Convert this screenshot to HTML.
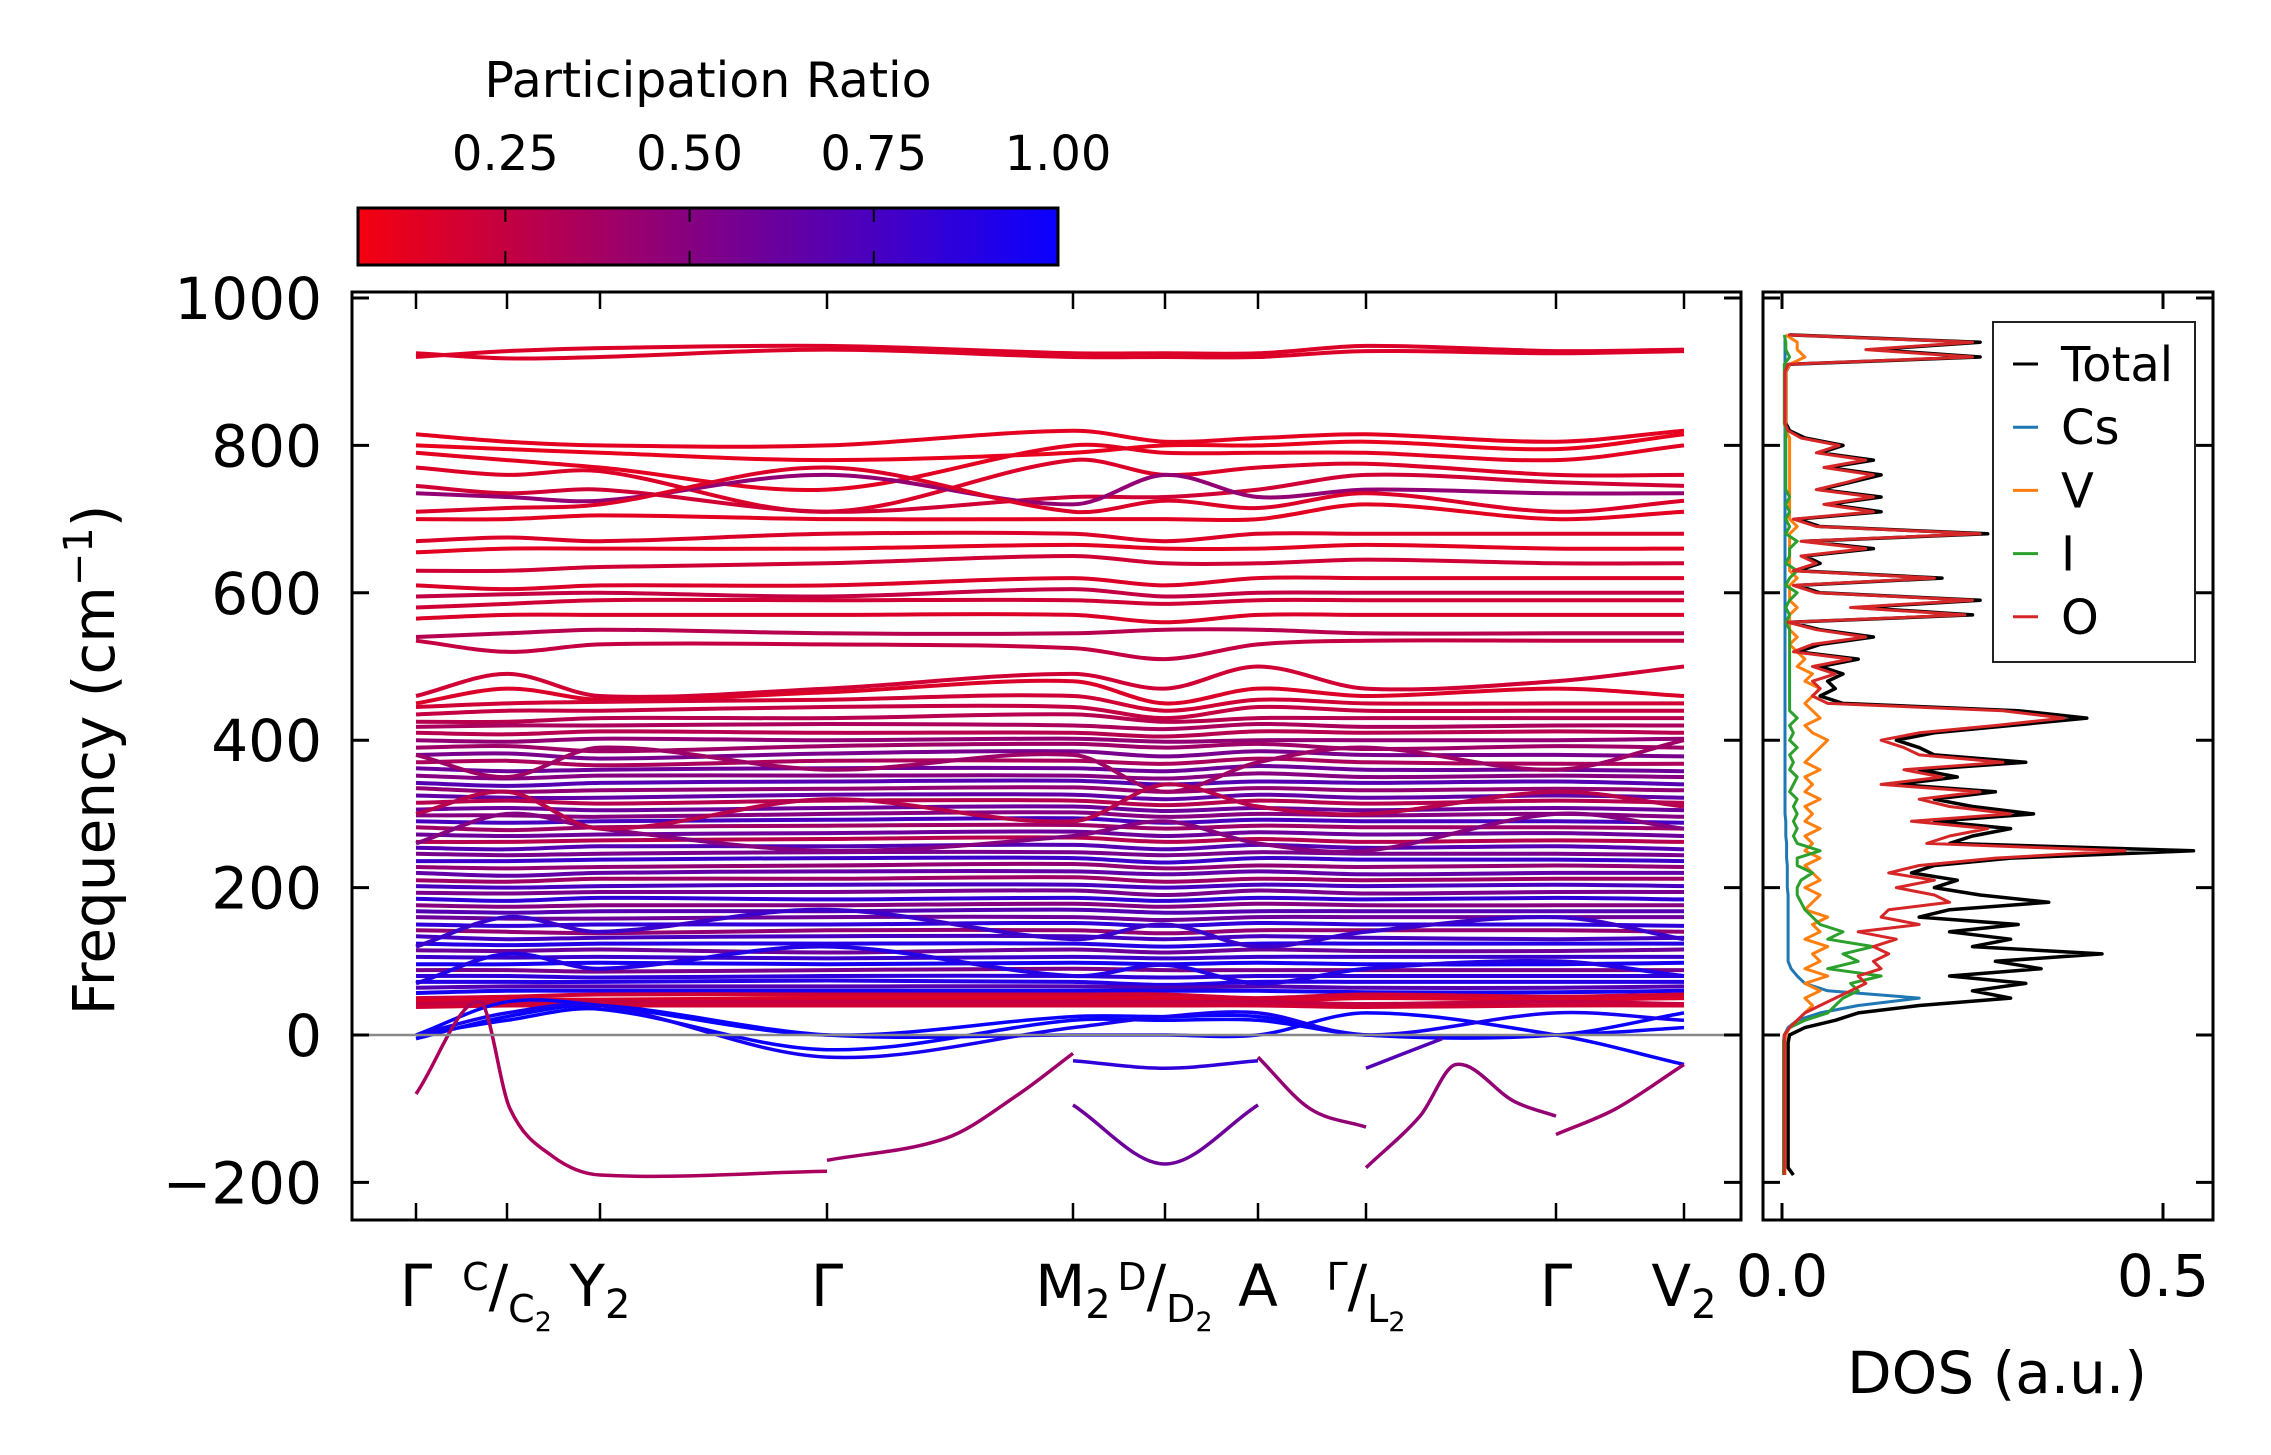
<!DOCTYPE html>
<html><head><meta charset="utf-8"><title>Phonon band structure and DOS</title>
<style>
html,body{margin:0;padding:0;background:#fff;}
svg{display:block;font-family:"DejaVu Sans","Liberation Sans",sans-serif;}
</style></head>
<body>
<svg id="chart" width="2271" height="1455" viewBox="0 0 2271 1455" xmlns="http://www.w3.org/2000/svg">
<defs>
<linearGradient id="cmap" x1="0" x2="1" y1="0" y2="0">
<stop offset="0" stop-color="rgb(245,0,15)"/><stop offset="0.5" stop-color="rgb(128,0,135)"/><stop offset="1" stop-color="rgb(10,0,255)"/>
</linearGradient>
<clipPath id="clipMain"><rect x="352" y="292" width="1389" height="928"/></clipPath>
<clipPath id="clipDos"><rect x="1763" y="292" width="450" height="928"/></clipPath>
</defs>
<g>
<text x="708" y="97" font-size="49" text-anchor="middle">Participation Ratio</text>
<rect x="358" y="208" width="700" height="57" fill="url(#cmap)" stroke="#000" stroke-width="3"/>
<g id="cbTicks"></g>
</g>
<g id="main">
<g id="bands" clip-path="url(#clipMain)"></g>
<line x1="352" x2="1741" y1="1035" y2="1035" stroke="#888" stroke-width="2.5"/>
<rect x="352" y="292" width="1389" height="928" fill="none" stroke="#000" stroke-width="3"/>
<g id="mainTicks"></g>
<text transform="translate(114,760) rotate(-90)" font-size="58" text-anchor="middle">Frequency (cm<tspan dy="-22" font-size="40">−1</tspan><tspan dy="22">)</tspan></text>
</g>
<g id="dos">
<g id="dosLines" clip-path="url(#clipDos)"></g>
<rect x="1763" y="292" width="450" height="928" fill="none" stroke="#000" stroke-width="3"/>
<g id="dosTicks"></g>
<text x="1997" y="1393" font-size="58" text-anchor="middle">DOS (a.u.)</text>
<g id="legend">
<rect x="1993" y="322" width="202" height="340" fill="#fff" stroke="#222" stroke-width="2"/>
</g>
</g>
</svg>
<script>
// ---------- band-structure data ----------
const kLabels = ["Γ","C/C2","Y2","Γ","M2","D/D2","A","Γ/L2","Γ","V2"];
const kDist = [0, 0.91, 1.84, 4.11, 6.57, 7.49, 8.42, 9.50, 11.40, 12.68];
const yTicks = [-200, 0, 200, 400, 600, 800, 1000];
const cbTickVals = [0.25, 0.5, 0.75, 1.0];
const bandPR = [
0.15,0.15,
0.12,0.1,0.12,0.15,0.2,0.45,0.15,0.12,0.15,0.12,0.2,0.15,0.25,0.2,0.15,0.3,0.25,
0.2,0.15,0.2,0.25,0.3,0.35,0.3,0.45,0.4,0.55,0.35,0.6,0.5,0.7,0.45,0.65,0.3,0.6,0.5,0.75,0.4,0.6,0.3,0.7,0.55,0.8,0.45,0.65,0.4,0.75,0.55,0.85,0.5,0.7,0.6,0.85,0.45,0.75,0.9,0.6,0.8,0.95,0.55,0.85,0.9,0.7,0.95,0.2,0.15,0.25,0.2,
0.5,0.4,0.8,0.9,0.3
];
const bandFreq = [
[920,928,932,935,925,925,925,935,928,930],
[925,918,920,930,920,920,920,928,925,928],
[815,805,800,800,820,805,810,815,805,820],
[800,795,790,780,790,800,800,805,795,815],
[790,780,770,740,800,790,790,790,780,800],
[770,760,765,710,780,760,770,775,760,760],
[745,735,740,710,730,730,740,760,750,745],
[735,730,725,760,720,760,730,740,735,735],
[710,715,720,770,710,725,715,735,710,725],
[700,700,705,700,700,700,700,720,700,710],
[670,675,670,680,680,670,680,680,680,680],
[655,660,660,660,665,660,660,665,660,660],
[630,630,635,640,650,640,640,645,640,640],
[610,605,610,610,620,610,620,620,620,620],
[595,598,600,595,605,595,600,600,600,600],
[580,585,590,590,590,585,590,590,590,590],
[565,570,570,570,570,560,570,570,570,570],
[540,545,550,545,545,550,550,545,545,545],
[535,520,530,530,525,510,530,535,535,535],
[460,490,460,470,490,470,500,470,480,500],
[450,470,455,465,480,450,470,460,470,460],
[445,450,452,455,460,440,455,450,450,450],
[435,440,440,445,445,430,445,440,440,440],
[425,425,430,430,435,425,430,430,430,430],
[418,420,420,422,420,415,422,418,420,420],
[410,408,412,410,410,405,412,410,412,410],
[400,398,402,400,402,398,400,400,400,402],
[390,392,385,392,395,390,395,388,392,390],
[380,382,375,382,385,378,385,380,380,378],
[370,372,366,372,372,368,375,370,368,368],
[362,358,360,362,362,358,365,360,360,358],
[352,348,352,352,352,348,355,350,352,350],
[342,338,342,344,345,340,344,342,344,340],
[335,330,332,334,336,330,335,332,334,332],
[325,322,322,326,326,320,326,322,325,322],
[315,318,314,318,318,312,318,314,318,315],
[306,308,305,308,310,304,308,305,308,305],
[298,298,296,300,302,296,300,298,300,296],
[290,288,290,292,294,288,292,290,290,288],
[282,278,282,284,285,280,284,282,282,280],
[272,270,272,274,276,270,275,272,274,270],
[262,262,264,266,268,262,266,262,264,262],
[254,252,256,256,258,252,258,254,256,252],
[246,244,246,248,248,244,248,246,246,244],
[236,236,238,240,240,234,240,238,238,236],
[228,226,228,230,232,226,230,228,230,228],
[220,216,220,222,222,218,222,218,220,220],
[210,208,212,212,214,208,212,210,212,212],
[202,200,202,204,204,200,204,202,204,202],
[193,192,194,194,196,190,196,192,194,194],
[185,182,186,184,186,182,186,184,186,184],
[176,174,176,176,178,174,178,176,176,176],
[168,166,168,168,170,166,168,168,168,168],
[160,158,158,160,160,156,160,160,160,160],
[150,148,150,150,152,148,152,150,150,148],
[142,140,138,142,142,138,142,142,142,140],
[134,130,132,134,134,130,134,132,130,132],
[124,122,124,124,124,120,124,124,124,124],
[115,114,116,112,116,112,116,114,114,116],
[106,105,106,104,106,104,106,106,106,106],
[96,96,98,96,98,96,98,96,96,98],
[88,88,86,88,90,88,88,88,88,88],
[80,80,78,80,80,78,80,80,80,80],
[72,72,72,74,72,68,72,72,72,72],
[64,66,66,66,66,64,66,64,64,66],
[57,60,60,60,60,60,60,58,58,60],
[50,52,55,55,55,55,50,55,52,55],
[46,48,48,50,50,50,46,50,48,50],
[42,45,45,45,45,45,45,42,45,42],
[38,40,40,40,40,40,40,38,40,40],
[260,300,280,250,270,290,260,250,300,280],
[380,350,390,360,380,330,370,390,360,400],
[120,160,140,170,130,150,120,140,160,130],
[70,110,90,120,80,95,70,90,100,80],
[300,330,280,320,290,340,310,300,330,310]
];
const softPR = [1.0, 1.0, 1.0, 0.95];
const softFreq = [
[0,45,40,0,25,25,25,0,0,30],
[0,20,35,-20,20,20,20,0,0,10],
[-5,25,40,0,0,0,0,30,0,-40],
[0,30,40,-30,10,25,30,0,30,20]
];
const segPR = [0.35, 0.4, 0.6, 0.85, 0.45, 0.45, 0.7, 0.4];
const segK = [
[0, 0.64, 0.94, 1.37, 1.84, 4.11],
[4.11, 5.30, 6.03, 6.57],
[6.57, 7.49, 8.42],
[6.57, 7.49, 8.42],
[8.42, 8.94, 9.50],
[9.50, 10.04, 10.40, 10.98, 11.40],
[9.50, 10.26],
[11.40, 12.0, 12.68]
];
const segFreq = [
[-80, 45, -100, -165, -190, -185],
[-170, -140, -80, -25],
[-95, -175, -95],
[-35, -45, -35],
[-30, -100, -125],
[-180, -110, -40, -90, -110],
[-45, -5],
[-135, -100, -40]
];

// ---------- DOS data (freq grid -190..950 step 10) ----------
const dosFreqStart = -190, dosFreqStep = 10;
const dosTotal = [0.015,0.008,0.008,0.008,0.008,0.008,0.008,0.008,0.008,0.008,0.008,0.008,0.008,0.008,0.008,0.008,0.008,0.008,0.008,
0.01,0.03,0.07,0.1,0.18,0.3,0.25,0.32,0.22,0.34,0.28,0.42,0.25,0.3,0.22,0.31,0.18,0.22,0.35,0.26,0.2,0.23,0.17,0.2,0.3,0.54,
0.22,0.25,0.3,0.2,0.33,0.25,0.2,0.28,0.15,0.23,0.18,0.32,0.2,0.18,0.15,0.2,0.3,0.4,0.31,0.08,0.05,0.07,0.06,0.08,0.05,0.1,0.02,0.05,0.12,0.05,0.01,0.25,0.1,0.26,0.05,0.02,0.21,0.02,0.05,0.03,0.12,0.03,0.27,0.05,0.02,0.13,0.06,0.13,0.05,0.09,0.13,0.06,0.12,0.05,0.08,0.03,0.01,
0.005,0.005,0.005,0.005,0.005,0.005,0.005,0.005,0.01,0.26,0.12,0.26,0.01];
const dosO = [0.003,0.003,0.003,0.003,0.003,0.003,0.003,0.003,0.003,0.003,0.003,0.003,0.003,0.003,0.003,0.003,0.003,0.003,0.003,
0.003,0.01,0.02,0.03,0.05,0.07,0.09,0.11,0.1,0.13,0.12,0.14,0.12,0.15,0.1,0.18,0.13,0.14,0.22,0.2,0.15,0.2,0.14,0.18,0.28,0.45,
0.19,0.22,0.27,0.17,0.3,0.22,0.18,0.26,0.13,0.21,0.16,0.29,0.18,0.16,0.13,0.18,0.28,0.37,0.29,0.06,0.04,0.05,0.04,0.07,0.04,0.09,0.015,0.04,0.11,0.045,0.008,0.24,0.09,0.25,0.045,0.015,0.2,0.015,0.045,0.025,0.11,0.025,0.26,0.045,0.015,0.12,0.055,0.12,0.045,0.085,0.12,0.055,0.11,0.045,0.075,0.025,0.008,
0.004,0.004,0.004,0.004,0.004,0.004,0.004,0.004,0.008,0.25,0.11,0.25,0.008];
const dosCs = [0.002,0.002,0.002,0.002,0.002,0.002,0.002,0.002,0.002,0.002,0.002,0.002,0.002,0.002,0.002,0.002,0.002,0.002,0.002,
0.003,0.008,0.02,0.05,0.1,0.18,0.06,0.03,0.02,0.012,
0.008,0.008,0.008,0.008,0.008,0.008,0.008,0.008,0.008,0.008,0.007,0.007,0.007,0.007,0.006,0.006,0.006,0.005,0.005,0.005,
0.004,0.004,0.004,0.004,0.004,0.004,0.004,0.004,0.004,0.004,0.004,0.004,0.004,0.004,0.004,0.004,0.004,0.004,0.004,0.004,0.004,0.004,0.004,0.004,0.004,0.004,0.004,0.004,0.004,0.004,0.004,0.004,0.004,0.004,0.004,0.004,0.004,0.004,0.004,0.004,0.004,0.004,0.004,0.004,0.004,0.004,0.004,0.004,0.004,0.004,0.004,0.004,0.004,0.004,0.004,0.004,0.004,0.004,0.004,0.004,0.004,0.004,0.004,0.004,0.004,0.004];
const dosV = [0.004,0.004,0.004,0.004,0.004,0.004,0.004,0.004,0.004,0.004,0.004,0.004,0.004,0.004,0.004,0.004,0.004,0.004,0.004,
0.005,0.01,0.02,0.03,0.04,0.03,0.05,0.03,0.06,0.03,0.05,0.04,0.06,0.03,0.05,0.04,0.06,0.03,0.04,0.05,0.03,0.05,0.04,0.03,0.05,0.03,0.04,0.03,0.05,0.03,0.04,0.03,0.05,0.03,0.04,0.03,0.05,0.03,0.04,0.05,0.06,0.04,0.03,0.05,0.04,0.03,
0.04,0.05,0.03,0.04,0.02,0.03,0.02,0.01,0.02,0.01,
0.01,0.01,0.02,0.01,0.01,0.01,0.02,0.01,0.01,0.01,0.01,0.01,0.01,0.02,0.01,0.01,0.01,0.01,0.01,0.01,0.01,0.01,0.01,0.01,0.01,0.01,0.005,0.005,0.005,0.005,0.005,0.005,0.005,0.005,0.005,0.01,0.03,0.02,0.02,0.005];
const dosI = [0.002,0.002,0.002,0.002,0.002,0.002,0.002,0.002,0.002,0.002,0.002,0.002,0.002,0.002,0.002,0.002,0.002,0.002,0.002,
0.003,0.01,0.03,0.06,0.07,0.08,0.1,0.09,0.13,0.06,0.1,0.08,0.12,0.06,0.08,0.05,0.04,0.03,0.025,0.02,0.02,0.025,0.04,0.02,0.02,0.05,
0.02,0.015,0.02,0.015,0.02,0.015,0.02,0.01,0.015,0.02,0.01,0.015,0.01,0.02,0.01,0.015,0.01,0.02,0.01,0.01,
0.01,0.01,0.01,0.01,0.01,0.01,0.01,0.01,0.01,0.01,
0.005,0.01,0.005,0.01,0.02,0.005,0.01,0.02,0.005,0.01,
0.01,0.02,0.005,0.01,0.005,0.01,0.005,0.01,0.005,0.005,
0.005,0.005,0.005,0.005,0.005,0.005,0.005,
0.003,0.003,0.003,0.003,0.003,0.003,0.003,0.003,
0.003,0.01,0.005,0.005,0.003];
const dosXTicks = [0.0, 0.5];
const legendNames = ["Total","Cs","V","I","O"];
const legendColors = ["#000000","#1f77b4","#ff7f0e","#2ca02c","#d62728"];

// ---------- scales ----------
const NS = "http://www.w3.org/2000/svg";
const kMin = -0.64, kMax = 13.25, mainL = 352, mainR = 1741;
const xK = k => mainL + (k - kMin) / (kMax - kMin) * (mainR - mainL);
const yF = f => 1035 - f * 0.737;
const xDos = v => 1782 + v * 762;
const xCb = p => 358 + (p - 0.05) / 0.95 * 700;
function prColor(p){
  const t = Math.max(0, Math.min(1, (p - 0.05) / 0.95));
  const r = Math.round(245 + (10 - 245) * t), b = Math.round(15 + (255 - 15) * t);
  return `rgb(${r},0,${b})`;
}
function mk(tag, attrs, parent){
  const e = document.createElementNS(NS, tag);
  for (const k in attrs) e.setAttribute(k, attrs[k]);
  parent.appendChild(e); return e;
}
function smoothPath(pts){
  let d = `M${pts[0][0].toFixed(1)},${pts[0][1].toFixed(1)}`;
  for (let i = 0; i < pts.length - 1; i++){
    const p0 = pts[Math.max(0,i-1)], p1 = pts[i], p2 = pts[i+1], p3 = pts[Math.min(pts.length-1,i+2)];
    const dx = p2[0]-p1[0];
    const s1 = (p2[1]-p0[1])/(p2[0]-p0[0]||1), s2 = (p3[1]-p1[1])/(p3[0]-p1[0]||1);
    d += ` C${(p1[0]+dx/3).toFixed(1)},${(p1[1]+s1*dx/3).toFixed(1)} ${(p2[0]-dx/3).toFixed(1)},${(p2[1]-s2*dx/3).toFixed(1)} ${p2[0].toFixed(1)},${p2[1].toFixed(1)}`;
  }
  return d;
}

// ---------- colorbar ticks ----------
const cbG = document.getElementById("cbTicks");
cbTickVals.forEach(v => {
  const x = xCb(v);
  if (v < 1.0){
    const t1 = mk("line",{x1:x,x2:x,y1:208,y2:222,stroke:"#000","stroke-width":2},cbG);
    
    
    const t2 = mk("line",{x1:x,x2:x,y1:251,y2:265,stroke:"#000","stroke-width":2},cbG);
    
    
  }
  const tx = mk("text",{x:x,y:170,"font-size":48,"text-anchor":"middle"},cbG);
  tx.textContent = v.toFixed(2);
  
  
});

// ---------- bands ----------
const bandsG = document.getElementById("bands");
bandFreq.forEach((vals, i) => {
  const pts = vals.map((f, j) => [xK(kDist[j]), yF(f)]);
  const p = mk("path",{d:smoothPath(pts),fill:"none",stroke:prColor(bandPR[i]),"stroke-width":4},bandsG);
  
  
});
softFreq.forEach((vals, i) => {
  const pts = vals.map((f, j) => [xK(kDist[j]), yF(f)]);
  const p = mk("path",{d:smoothPath(pts),fill:"none",stroke:prColor(softPR[i]),"stroke-width":3.5},bandsG);
  
  
});
segFreq.forEach((vals, i) => {
  const pts = vals.map((f, j) => [xK(segK[i][j]), yF(f)]);
  const p = mk("path",{d:smoothPath(pts),fill:"none",stroke:prColor(segPR[i]),"stroke-width":3.5},bandsG);
  
  
});

// ---------- main axes ticks ----------
const mt = document.getElementById("mainTicks");
yTicks.forEach(f => {
  const y = yF(f);
  const a = mk("line",{x1:352,x2:369,y1:y,y2:y,stroke:"#000","stroke-width":3},mt);
  
  
  const b = mk("line",{x1:1724,x2:1741,y1:y,y2:y,stroke:"#000","stroke-width":3},mt);
  
  
  const c = mk("line",{x1:1763,x2:1780,y1:y,y2:y,stroke:"#000","stroke-width":3},mt);
  
  
  const d = mk("line",{x1:2196,x2:2213,y1:y,y2:y,stroke:"#000","stroke-width":3},mt);
  
  
  const t = mk("text",{x:322,y:y+21,"font-size":58,"text-anchor":"end"},mt);
  t.textContent = f < 0 ? "−" + Math.abs(f) : String(f);
  
  
});
kDist.forEach((k, i) => {
  const x = xK(k);
  const a = mk("line",{x1:x,x2:x,y1:1220,y2:1203,stroke:"#000","stroke-width":2.5},mt);
  
  
  const b = mk("line",{x1:x,x2:x,y1:292,y2:309,stroke:"#000","stroke-width":2.5},mt);
  
  
  const lab = kLabels[i];
  const t = mk("text",{x:x,y:1306,"font-size":58,"text-anchor":"middle"},mt);
  
  
  if (lab.includes("/")){
    const parts = lab.split("/");
    const s1 = mk("tspan",{"font-size":38,dy:-16},t); s1.textContent = parts[0];
    const s2 = mk("tspan",{"font-size":58,dy:16},t); s2.textContent = "/";
    const s3 = mk("tspan",{"font-size":38,dy:16},t); s3.textContent = parts[1][0];
    if (parts[1].length > 1){ const s4 = mk("tspan",{"font-size":27,dy:9},t); s4.textContent = parts[1].slice(1); }
  } else if (lab.length > 1){
    const s1 = mk("tspan",{},t); s1.textContent = lab[0];
    const s2 = mk("tspan",{"font-size":40,dy:12},t); s2.textContent = lab.slice(1);
  } else {
    t.textContent = lab;
  }
});

// ---------- DOS ----------
const dg = document.getElementById("dosLines");
const series = [dosTotal, dosCs, dosV, dosI, dosO];
series.forEach((arr, si) => {
  const pts = arr.map((v, i) => `${xDos(v).toFixed(1)},${yF(dosFreqStart + i*dosFreqStep).toFixed(1)}`).join(" ");
  const pl = mk("polyline",{points:pts,fill:"none",stroke:legendColors[si],"stroke-width":si===0?3.5:3,"stroke-linejoin":"round"},dg);
  
  
});
const dt = document.getElementById("dosTicks");
dosXTicks.forEach(v => {
  const x = xDos(v);
  const a = mk("line",{x1:x,x2:x,y1:1220,y2:1203,stroke:"#000","stroke-width":3},dt);
  
  
  const b = mk("line",{x1:x,x2:x,y1:292,y2:309,stroke:"#000","stroke-width":3},dt);
  
  
  const t = mk("text",{x:x,y:1296,"font-size":58,"text-anchor":"middle"},dt);
  t.textContent = v.toFixed(1);
  
  
});
const lg = document.getElementById("legend");
legendNames.forEach((n, i) => {
  const y = 364 + i * 63.2;
  const l = mk("line",{x1:2013,x2:2038,y1:y,y2:y,stroke:legendColors[i],"stroke-width":3},lg);
  
  
  const t = mk("text",{x:2061,y:y+17,"font-size":48},lg);
  t.textContent = n;
  
  
});
</script>
</body></html>
